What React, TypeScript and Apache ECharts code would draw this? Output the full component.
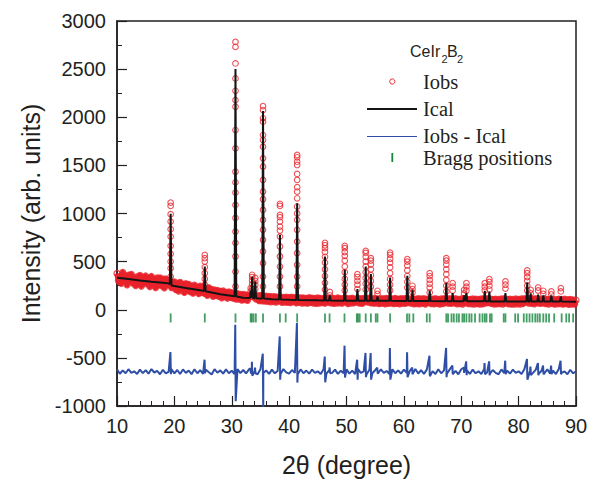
import React, { useEffect, useRef } from "react";
import * as echarts from "echarts";

// ---- axis ranges ----
const X_MIN = 10;
const X_MAX = 90;
const X_STEP = 10;
const Y_MIN = -1000;
const Y_MAX = 3000;
const Y_STEP = 500;

// ---- observed pattern between peaks (2θ from 10 to 90, step 0.25°) ----
const obsStart = 10;
const obsStep = 0.25;
const obsBase = [
  377, 300, 340, 275, 388, 312, 350, 258, 358, 312,
  368, 278, 327, 252, 340, 288, 356, 245, 334, 285,
  350, 270, 322, 240, 345, 275, 305, 230, 330, 262,
  330, 250, 318, 228, 320, 262, 300, 275, 230, 268,
  290, 210, 268, 195, 285, 218, 262, 180, 270, 205,
  262, 188, 240, 172, 255, 195, 232, 168, 245, 180,
  235, 170, 220, 150, 228, 165, 210, 140, 205, 150,
  200, 140, 190, 125, 195, 138, 180, 120, 185, 130,
  178, 120, 165, 112, 168, 110, 158, 100, 160, 105,
  155, 98, 150, 140, 160, 135, 150, 112, 145, 95,
  148, 92, 140, 90, 142, 88, 138, 82, 136, 85,
  135, 80, 130, 92, 132, 78, 128, 80, 130, 76,
  128, 75, 130, 85, 125, 72, 126, 78, 122, 70,
  124, 72, 118, 68, 125, 76, 120, 70, 118, 66,
  122, 70, 118, 74, 115, 68, 120, 80, 118, 72,
  120, 66, 116, 70, 122, 72, 114, 68, 118, 85,
  118, 64, 115, 70, 120, 72, 112, 80, 118, 70,
  114, 66, 118, 85, 116, 80, 120, 72, 112, 68,
  118, 70, 112, 64, 116, 68, 114, 62, 118, 66,
  116, 70, 112, 64, 118, 66, 110, 62, 116, 68,
  114, 66, 118, 74, 112, 68, 116, 62, 110, 64,
  116, 62, 112, 68, 114, 60, 110, 75, 116, 64,
  110, 62, 114, 66, 108, 60, 112, 64, 116, 72,
  112, 68, 114, 66, 110, 72, 114, 62, 108, 64,
  112, 60, 116, 72, 110, 64, 108, 62, 112, 60,
  110, 64, 106, 58, 112, 62, 114, 70, 116, 74,
  112, 66, 108, 60, 110, 62, 106, 64, 112, 60,
  114, 70, 108, 62, 110, 58, 106, 60, 112, 62,
  108, 60, 112, 64, 114, 80, 112, 70, 116, 66,
  110, 62, 114, 72, 112, 66, 108, 70, 112, 64,
  106, 60, 110, 68, 108, 58, 104, 62, 110, 64,
  106, 58, 110, 64, 104, 56, 108, 60, 102, 58,
  100,
];

// ---- difference curve between peaks (2θ from 10 to 90, step 0.5°) ----
const diffStep = 0.5;
const diffBase = [
  -620, -665, -630, -660, -618, -655, -640, -668, -622, -658,
  -628, -664, -616, -652, -636, -670, -624, -660, -646, -618,
  -662, -626, -668, -620, -656, -632, -670, -618, -660, -628,
  -666, -622, -650, -672, -618, -654, -630, -664, -620, -660,
  -634, -668, -616, -658, -626, -662, -620, -656, -640, -670,
  -618, -656, -630, -666, -622, -660, -636, -668, -616, -650,
  -664, -626, -656, -670, -620, -660, -632, -664, -622, -656,
  -640, -668, -618, -662, -628, -656, -622, -666, -634, -660,
  -620, -664, -632, -668, -616, -656, -640, -670, -624, -660,
  -628, -666, -620, -656, -636, -668, -618, -660, -630, -664,
  -622, -656, -640, -670, -616, -662, -628, -666, -622, -656,
  -638, -668, -618, -660, -630, -664, -620, -656, -636, -670,
  -618, -656, -630, -666, -622, -660, -640, -668, -616, -652,
  -664, -626, -656, -670, -620, -660, -632, -664, -622, -656,
  -640, -668, -618, -662, -628, -656, -622, -666, -634, -660,
  -620, -664, -632, -668, -616, -656, -640, -670, -624, -660,
  -640,
];

// ---- calculated background knots ----
const bgX = [10, 12, 14, 16, 18, 19, 19.5, 22, 25, 28, 30.5, 32, 35, 37, 40, 45, 50, 60, 70, 80, 90];
const bgY = [332, 320, 305, 292, 280, 274, 252, 225, 197, 160, 140, 125, 118, 110, 104, 98, 94, 92, 88, 86, 84];

// ---- reflections: position, calculated top, observed column, difference spike ----
const peakPos = [19.35, 25.3, 30.65, 33.3, 33.55, 34.1, 35.45, 38.4, 41.4, 46.25, 47.1, 49.7, 51.9, 53.35, 54.25, 55.4, 57.6, 60.6, 61.5, 64.5, 67.4, 68.5, 70.5, 70.9, 74.1, 74.9, 77.7, 81.5, 82.1, 83.4, 84.3, 85.7, 87.35];
const calcTop = [996, 450, 2500, 200, 345, 294, 2064, 778, 1107, 553, 150, 415, 215, 450, 370, 138, 335, 353, 207, 197, 277, 173, 150, 173, 197, 190, 173, 283, 170, 156, 150, 150, 138];
const obsPeakCols = [
  [1113, 1079, 993, 916, 837, 760, 664, 581, 501, 432, 345, 290],
  [570, 536, 501, 443, 380, 320, 260],
  [2783, 2731, 2559, 2403, 2275, 2178, 2109, 1867, 1677, 1434, 1324, 1217, 1089, 954, 812, 695, 553, 397, 242],
  [225, 190],
  [363, 340, 305, 265, 220],
  [330, 300, 260, 215],
  [2116, 2075, 1989, 1954, 1815, 1763, 1694, 1573, 1487, 1349, 1227, 1148, 1037, 934, 830, 726, 605, 484, 345, 242],
  [1100, 1079, 985, 962, 916, 864, 823, 760, 657, 553, 449, 345, 242],
  [1608, 1584, 1538, 1504, 1411, 1349, 1273, 1227, 1158, 1072, 1000, 934, 830, 708, 588, 467, 345, 242],
  [695, 670, 640, 600, 550, 490, 420, 350, 280, 210],
  [185, 150],
  [664, 640, 600, 560, 510, 450, 390, 320, 260, 200],
  [370, 340, 300, 260, 215],
  [612, 590, 550, 500, 450, 390, 330, 270, 210],
  [536, 510, 470, 420, 360, 300, 240],
  [197, 165],
  [594, 570, 530, 490, 440, 380, 320, 260, 200],
  [526, 500, 460, 410, 350, 290, 230],
  [249, 215, 180],
  [380, 350, 310, 270, 230, 180],
  [536, 510, 470, 420, 370, 310, 250, 190],
  [277, 240, 200],
  [207, 170],
  [277, 240, 200],
  [277, 240, 200],
  [318, 290, 250, 210],
  [294, 260, 220],
  [408, 380, 340, 300, 250, 200],
  [207, 170],
  [231, 200],
  [197, 165],
  [190, 160],
  [225, 190],
];
const diffUp = [-439, -519, -155, -610, -540, -600, -456, -277, -138, -487, -600, -373, -519, -449, -449, -600, -397, -443, -600, -477, -397, -580, -600, -536, -553, -536, -529, -512, -590, -553, -580, -580, -530];
const diffDown = [-670, -660, -951, -660, -685, -660, -1050, -726, -757, -754, -660, -705, -726, -700, -726, -665, -726, -700, -670, -690, -700, -670, -660, -680, -670, -680, -670, -726, -680, -680, -670, -670, -670];

// ---- Bragg reflection positions ----
const braggPos = [19.35, 25.3, 30.65, 33.3, 33.5, 33.8, 34.2, 35.45, 38.4, 39.4, 41.4, 46.25, 47.05, 49.65, 51.8, 52.0, 52.3, 53.35, 54.25, 55.1, 55.4, 57.6, 60.55, 60.95, 61.65, 64.0, 64.5, 67.4, 67.7, 68.3, 68.7, 69.2, 69.6, 70.2, 70.5, 70.9, 71.4, 71.8, 72.4, 73.2, 73.7, 74.1, 74.4, 75.0, 75.3, 77.4, 77.7, 79.4, 79.9, 80.9, 81.4, 81.9, 82.4, 82.9, 83.3, 83.7, 84.3, 84.8, 85.3, 86.2, 87.5, 88.3, 88.8, 89.5];
const braggLevel = -85;

// ---- series names ----
const seriesNames = ["Iobs", "Ical", "Iobs - Ical", "Bragg positions"];

const RED = "#e8222b";
const BLACK = "#141414";
const BLUE = "#2f4ea6";
const GREEN = "#14873c";
const INK = "#231f20";

function bgAt(x: number): number {
  for (let i = 0; i < bgX.length - 1; i++) {
    if (x >= bgX[i] && x <= bgX[i + 1]) {
      const t = (x - bgX[i]) / (bgX[i + 1] - bgX[i]);
      return bgY[i] + t * (bgY[i + 1] - bgY[i]);
    }
  }
  return bgY[bgY.length - 1];
}

function buildObsBase(): number[][] {
  return obsBase.map((v, i) => [obsStart + i * obsStep, v]);
}

function buildObsPeaks(): number[][] {
  const pts: number[][] = [];
  peakPos.forEach((p, k) => obsPeakCols[k].forEach((v) => pts.push([p, v])));
  return pts;
}

function buildCalc(): number[][] {
  const hw = 0.14;
  const pts: number[][] = [];
  bgX.forEach((x, i) => {
    if (!peakPos.some((p) => Math.abs(p - x) <= hw)) pts.push([x, bgY[i]]);
  });
  peakPos.forEach((p, k) => {
    pts.push([p - hw, bgAt(p - hw)], [p, calcTop[k]], [p + hw, bgAt(p + hw)]);
  });
  pts.sort((a, b) => a[0] - b[0]);
  return pts;
}

function buildDiff(): number[][] {
  const pts: number[][] = diffBase.map((v, i) => [obsStart + i * diffStep, v]);
  peakPos.forEach((p, k) => {
    pts.push([p - 0.04, diffUp[k]], [p + 0.04, diffDown[k]]);
  });
  pts.sort((a, b) => a[0] - b[0]);
  return pts;
}

const SANS = "'Liberation Sans', Arial, Helvetica, sans-serif";
const SERIF = "'Liberation Serif', 'Times New Roman', serif";

export default function App() {
  const ref = useRef<HTMLDivElement>(null);

  useEffect(() => {
    if (!ref.current) return;
    const chart = echarts.init(ref.current, null, { renderer: "svg" });

    const legendX = 423;
    const legendRows = [81.5, 108.5, 135.5, 158];
    const legendFont = `20.5px ${SERIF}`;

    const option: any = {
      animation: false,
      backgroundColor: "#ffffff",
      grid: {
        left: 117,
        top: 21,
        right: 23,
        bottom: 75,
        show: true,
        borderColor: INK,
        borderWidth: 1.5,
        backgroundColor: "transparent",
        containLabel: false,
        outerBoundsMode: "none",
      },
      xAxis: {
        type: "value",
        min: X_MIN,
        max: X_MAX,
        interval: X_STEP,
        name: "2θ (degree)",
        nameLocation: "middle",
        nameGap: 46,
        nameTextStyle: { fontFamily: SANS, fontSize: 25, color: INK },
        axisLine: { onZero: false, lineStyle: { color: INK, width: 1.5 } },
        axisTick: { inside: true, length: 10, lineStyle: { color: INK, width: 1.2 } },
        minorTick: { show: true, splitNumber: 5, length: 5, lineStyle: { color: INK, width: 1 } },
        axisLabel: {
          margin: 10,
          fontFamily: SANS,
          fontSize: 20,
          color: INK,
          formatter: (v: number) => String(v),
        },
        splitLine: { show: false },
        minorSplitLine: { show: false },
      },
      yAxis: {
        type: "value",
        min: Y_MIN,
        max: Y_MAX,
        interval: Y_STEP,
        name: "Intensity (arb. units)",
        nameLocation: "middle",
        nameGap: 74,
        nameRotate: 90,
        nameTextStyle: { fontFamily: SANS, fontSize: 25, color: INK },
        axisLine: { onZero: false, lineStyle: { color: INK, width: 1.5 } },
        axisTick: { inside: true, length: 10, lineStyle: { color: INK, width: 1.2 } },
        minorTick: { show: true, splitNumber: 2, length: 5, lineStyle: { color: INK, width: 1 } },
        axisLabel: {
          margin: 11,
          fontFamily: SANS,
          fontSize: 20,
          color: INK,
          formatter: (v: number) => String(v),
        },
        splitLine: { show: false },
        minorSplitLine: { show: false },
      },
      series: [
        {
          // dense observed trace between the reflections (joins the sampled points)
          name: seriesNames[0],
          type: "line",
          data: buildObsBase(),
          showSymbol: false,
          symbol: "none",
          color: RED,
          lineStyle: { color: RED, width: 5.5, opacity: 1, join: "round" },
          silent: true,
          clip: true,
          z: 1,
        },
        {
          name: seriesNames[0],
          type: "scatter",
          data: buildObsBase(),
          symbol: "circle",
          symbolSize: 6,
          itemStyle: { color: "rgba(255,255,255,0)", borderColor: RED, borderWidth: 1.3 },
          silent: true,
          clip: true,
          z: 2,
        },
        {
          name: seriesNames[0],
          type: "scatter",
          data: buildObsPeaks(),
          symbol: "circle",
          symbolSize: 5.6,
          itemStyle: { color: "rgba(255,255,255,0)", borderColor: RED, borderWidth: 1.1 },
          silent: true,
          clip: true,
          z: 2,
        },
        {
          name: seriesNames[1],
          type: "line",
          data: buildCalc(),
          showSymbol: false,
          symbol: "none",
          lineStyle: { color: BLACK, width: 2 },
          silent: true,
          clip: true,
          z: 3,
        },
        {
          name: seriesNames[2],
          type: "line",
          data: buildDiff(),
          showSymbol: false,
          symbol: "none",
          lineStyle: { color: BLUE, width: 2 },
          silent: true,
          clip: true,
          z: 3,
        },
        {
          name: seriesNames[3],
          type: "scatter",
          data: braggPos.map((p) => [p, braggLevel]),
          symbol: "rect",
          symbolSize: [1.8, 9],
          itemStyle: { color: GREEN },
          silent: true,
          z: 3,
        },
      ],
      graphic: [
        // legend title CeIr2B2
        { type: "text", x: 410, y: 51, z: 10, style: { text: "CeIr", font: `16px ${SANS}`, fill: INK, verticalAlign: "middle", align: "left" } },
        { type: "text", x: 441.5, y: 58.5, z: 10, style: { text: "2", font: `11px ${SANS}`, fill: INK, verticalAlign: "middle", align: "left" } },
        { type: "text", x: 447, y: 51, z: 10, style: { text: "B", font: `16px ${SANS}`, fill: INK, verticalAlign: "middle", align: "left" } },
        { type: "text", x: 457, y: 58.5, z: 10, style: { text: "2", font: `11px ${SANS}`, fill: INK, verticalAlign: "middle", align: "left" } },
        // Iobs
        { type: "circle", z: 10, shape: { cx: 392.3, cy: legendRows[0], r: 2.6 }, style: { fill: "none", stroke: RED, lineWidth: 1 } },
        { type: "text", x: legendX, y: legendRows[0], z: 10, style: { text: seriesNames[0], font: legendFont, fill: INK, verticalAlign: "middle", align: "left" } },
        // Ical
        { type: "line", z: 10, shape: { x1: 367, y1: legendRows[1] + 0.5, x2: 417, y2: legendRows[1] + 0.5 }, style: { stroke: BLACK, lineWidth: 2 } },
        { type: "text", x: legendX, y: legendRows[1], z: 10, style: { text: seriesNames[1], font: legendFont, fill: INK, verticalAlign: "middle", align: "left" } },
        // Iobs - Ical
        { type: "line", z: 10, shape: { x1: 367, y1: legendRows[2] + 1, x2: 417, y2: legendRows[2] + 1 }, style: { stroke: BLUE, lineWidth: 1.2 } },
        { type: "text", x: legendX, y: legendRows[2], z: 10, style: { text: seriesNames[2], font: legendFont, fill: INK, verticalAlign: "middle", align: "left" } },
        // Bragg positions
        { type: "rect", z: 10, shape: { x: 391.4, y: legendRows[3] - 5, width: 1.8, height: 9 }, style: { fill: GREEN } },
        { type: "text", x: legendX, y: legendRows[3], z: 10, style: { text: seriesNames[3], font: legendFont, fill: INK, verticalAlign: "middle", align: "left" } },
      ],
    };

    chart.setOption(option);
    return () => chart.dispose();
  }, []);

  return (
    <div
      ref={ref}
      style={{ position: "fixed", left: 0, top: 0, width: 599, height: 481, background: "#fff" }}
    />
  );
}
